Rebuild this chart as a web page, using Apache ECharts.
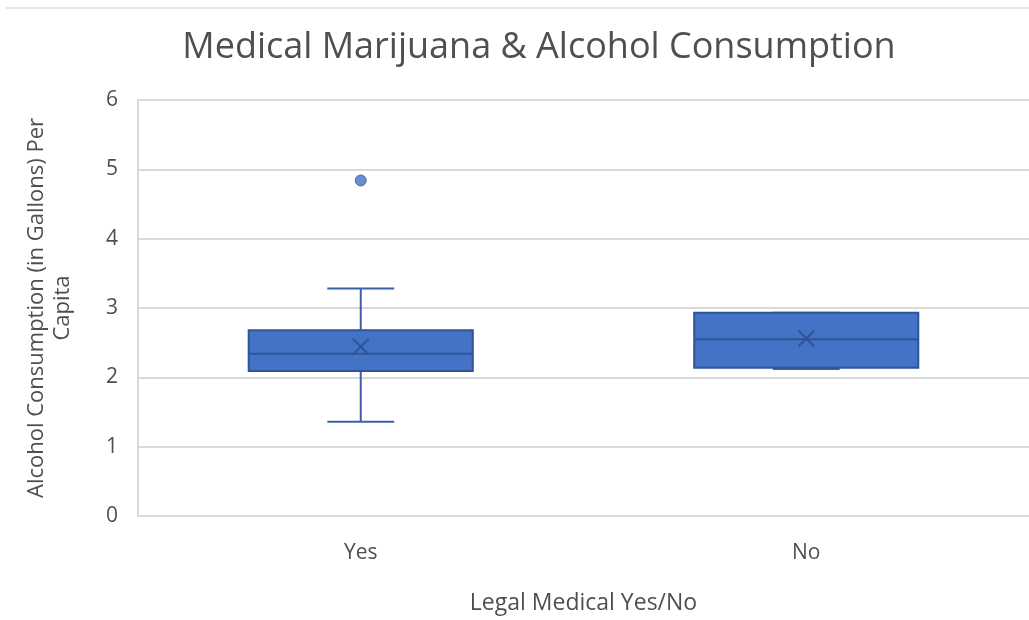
<!DOCTYPE html>
<html>
<head>
<meta charset="utf-8">
<script src="https://cdn.jsdelivr.net/npm/echarts@6/dist/echarts.min.js"></script>
<style>html,body{margin:0;padding:0;background:#fff;}#c{width:1029px;height:620px;}</style>
</head>
<body>
<div id="c"></div>
<script>
const categories = ['Yes', 'No'];
const minVals = [1.36, 2.12];
const q1Vals = [2.09, 2.14];
const medianVals = [2.34, 2.55];
const q3Vals = [2.68, 2.93];
const maxVals = [3.28, 2.93];
const meanVals = [2.44, 2.56];
const outlierCats = ['Yes'];
const outlierVals = [4.84];
const yTicks = [0, 1, 2, 3, 4, 5, 6];

const boxData = categories.map((c, i) => [i, minVals[i], q1Vals[i], medianVals[i], q3Vals[i], maxVals[i], meanVals[i]]);
const outlierData = outlierCats.map((c, i) => [categories.indexOf(c), outlierVals[i]]);

const FONT = 'Open Sans';
const TXT = '#4f4f4f';
const chart = echarts.init(document.getElementById('c'), null, {renderer: 'canvas'});

function renderBox(params, api) {
  const idx = api.value(0);
  const band = api.size([1, 0])[0];
  const bw = band * 0.503;
  const cw = band * 0.15;
  const pMin = api.coord([idx, api.value(1)]);
  const pQ1 = api.coord([idx, api.value(2)]);
  const pMed = api.coord([idx, api.value(3)]);
  const pQ3 = api.coord([idx, api.value(4)]);
  const pMax = api.coord([idx, api.value(5)]);
  const pMean = api.coord([idx, api.value(6)]);
  const x = pQ1[0];
  const whiskerStyle = {stroke: '#3B5FA8', lineWidth: 2};
  const darkStyle = {stroke: '#2F5597', lineWidth: 2};
  const xs = 8;
  return {
    type: 'group',
    children: [
      {type: 'line', shape: {x1: x, y1: pQ1[1], x2: x, y2: pMin[1]}, style: whiskerStyle},
      {type: 'line', shape: {x1: x, y1: pQ3[1], x2: x, y2: pMax[1]}, style: whiskerStyle},
      {type: 'line', shape: {x1: x - cw / 2, y1: pMin[1], x2: x + cw / 2, y2: pMin[1]}, style: whiskerStyle},
      {type: 'line', shape: {x1: x - cw / 2, y1: pMax[1], x2: x + cw / 2, y2: pMax[1]}, style: whiskerStyle},
      {type: 'rect', shape: {x: x - bw / 2, y: pQ3[1], width: bw, height: pQ1[1] - pQ3[1]},
        style: {fill: '#4472C4', stroke: '#2F5597', lineWidth: 2}},
      {type: 'line', shape: {x1: x - bw / 2, y1: pMed[1], x2: x + bw / 2, y2: pMed[1]}, style: darkStyle},
      {type: 'line', shape: {x1: x - xs, y1: pMean[1] - xs, x2: x + xs, y2: pMean[1] + xs}, style: darkStyle},
      {type: 'line', shape: {x1: x - xs, y1: pMean[1] + xs, x2: x + xs, y2: pMean[1] - xs}, style: darkStyle}
    ]
  };
}

chart.setOption({
  backgroundColor: '#ffffff',
  animation: false,
  title: {
    text: 'Medical Marijuana & Alcohol Consumption',
    left: 534, top: 25, textAlign: 'center',
    textStyle: {fontFamily: FONT, fontSize: 36, fontWeight: 'normal', color: TXT}
  },
  grid: {left: 138, top: 100, width: 894, height: 417, containLabel: false},
  xAxis: {
    type: 'category',
    data: categories,
    name: 'Legal Medical Yes/No',
    nameLocation: 'middle',
    nameGap: 76,
    nameTextStyle: {fontFamily: FONT, fontSize: 23, color: TXT},
    axisLine: {show: true, lineStyle: {color: '#d9d9d9', width: 2}},
    axisTick: {show: false},
    axisLabel: {fontFamily: FONT, fontSize: 21, color: TXT, margin: 27},
    splitLine: {show: false}
  },
  yAxis: {
    type: 'value',
    min: 0, max: 6, interval: 1,
    name: 'Alcohol Consumption (in Gallons) Per\nCapita',
    nameLocation: 'middle',
    nameRotate: 90,
    nameGap: 62,
    nameTextStyle: {fontFamily: FONT, fontSize: 22, color: TXT, lineHeight: 26, align: 'center'},
    axisLine: {show: true, lineStyle: {color: '#d9d9d9', width: 2}},
    axisTick: {show: false},
    axisLabel: {fontFamily: FONT, fontSize: 21, color: TXT, margin: 20,
      formatter: v => yTicks.includes(v) ? String(v) : ''},
    splitLine: {show: true, lineStyle: {color: '#d9d9d9', width: 2}}
  },
  graphic: [
    {type: 'line', shape: {x1: 6, y1: 8, x2: 1029, y2: 8}, style: {stroke: '#cfcfcf', lineWidth: 1}}
  ],
  series: [
    {type: 'custom', renderItem: renderBox, data: boxData, encode: {x: 0, y: [1, 2, 3, 4, 5, 6]}, z: 3},
    {type: 'scatter', data: outlierData, symbol: 'circle', symbolSize: 11,
      itemStyle: {color: '#4472C4', borderColor: '#2F5597', borderWidth: 1}, z: 4}
  ]
});
</script>
</body>
</html>
